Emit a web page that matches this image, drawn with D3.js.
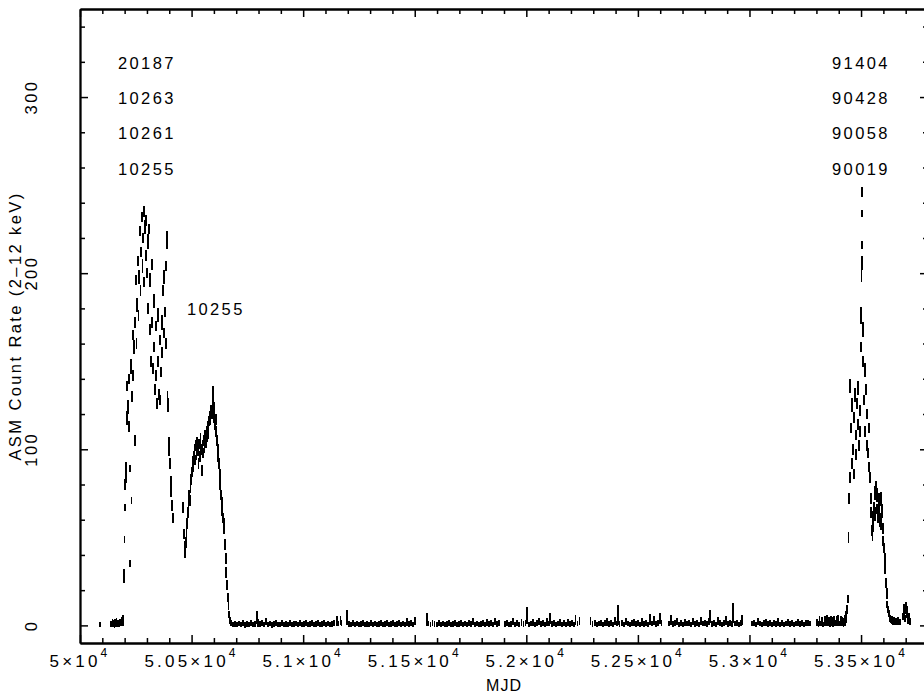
<!DOCTYPE html>
<html>
<head>
<meta charset="utf-8">
<script src="https://cdn.jsdelivr.net/npm/d3@7"></script>
<style>
  html, body { margin: 0; padding: 0; background: #fff; }
  svg { display: block; }
  text { font-family: "Liberation Sans", Arial, sans-serif; fill: #000; }
</style>
</head>
<body>
<svg id="chart" width="924" height="693"></svg>
<script>
// ---- RXTE/ASM daily light curve of GRO J1655-40: [MJD, rate, error] ----

// early 1996, before the outburst
const pre96 = [[50088,0.3,1.4],[50140,1.0,1.7],[50143,0.4,1.5],[50146,1.8,2.0],[50149,0.6,1.5],[50152,1.2,1.8],
  [50155,0.2,1.5],[50158,1.5,1.9],[50161,0.8,1.6],[50164,2.0,2.2],[50167,0.5,1.5],[50171,1.3,1.8],[50175,0.9,1.6],
  [50179,1.8,2.0],[50183,1.0,1.6],[50187,2.5,2.5],[50191,1.4,1.8],[50194,3.0,3.0]];

// 1996 outburst
const outburst96 = [[50197,28,4],[50199,49,2],[50201,67,2],[50203,80,3],[50205,90,3],[50207,84,3],[50209,118,4],
  [50212,136,3],[50215,124,4],[50218,140,3],[50221,113,3],[50223,89,2],[50225,35,2],[50228,147,4],[50231,71,2],
  [50233,130,3],[50236,165,3],[50239,142,3],[50242,158,4],[50245,105,3],[50247,172,3],[50250,196,3],[50253,160,3],
  [50256,182,4],[50259,207,3],[50262,176,3],[50265,198,4],[50268,224,3],[50271,190,3],[50274,212,3],[50277,232,3],
  [50280,204,4],[50283,220,3],[50285,235,3],[50288,195,3],[50291,226,4],[50294,210,3],[50297,230,3],[50300,200,3],
  [50303,218,4],[50306,180,3],[50309,225,3],[50312,168,3],[50315,196,4],[50318,150,3],[50321,205,3],[50324,172,3],
  [50327,146,3],[50330,184,4],[50333,158,3],[50336,134,3],[50339,170,3],[50342,142,3],[50345,126,3],[50348,176,4],
  [50351,150,3],[50354,131,3],[50357,162,3],[50360,128,3],[50363,144,3],[50366,172,4],[50369,155,3],[50372,190,3],
  [50375,166,3],[50378,198,4],[50381,178,3],[50384,160,3],[50387,204,3],[50390,219,5],[50392,130,3],[50394,126,3],
  [50396,124,3],[50398,104,3],[50400,99,3],[50403,92,3],[50406,82,3],[50409,76,3],[50412,68,3],[50415,61,3]];

// 1997 continuation and decay
const outburst97 = [[50462,67,3],[50465,52,3],[50468,44,4],[50471,41,3],[50474,47,3],[50477,53,3],[50480,58,3],
  [50483,64,3],[50486,69,3],[50489,74,3],[50492,71,3],[50495,78,3],[50498,83,3],[50501,87,3],[50504,93,3],
  [50507,90,3],[50510,96,3],[50513,100,3],[50516,94,3],[50519,102,3],[50522,97,3],[50525,104,3],[50528,99,3],
  [50531,92,3],[50534,103,3],[50537,96,3],[50540,106,3],[50543,100,3],[50546,88,3],[50549,102,3],[50552,98,3],
  [50555,105,3],[50558,101,3],[50561,108,3],[50564,104,3],[50567,110,3],[50570,107,3],[50573,113,3],[50576,109,3],
  [50579,116,3],[50582,119,3],[50585,117,3],[50588,122,3],[50591,120,3],[50594,126,4],[50596,131,5],[50599,123,4],
  [50602,118,3],[50605,114,3],[50608,117,3],[50611,110,3],[50614,105,3],[50617,100,3],[50620,96,3],[50623,92,3],
  [50626,86,3],[50629,80,3],[50632,74,3],[50635,70,3],[50638,65,3],[50641,61,3],[50644,58,3],[50647,55,3],
  [50650,46,3],[50653,38,3],[50656,30,3],[50659,23,3],[50662,16,2.5],[50665,11,2.5],[50668,6,2],[50671,3,2]];

// quiescence, one array per observing season
const q1997 = [[50676,1.2,1.7],[50685,0.5,1.5],[50694,0.9,1.6],[50703,0.4,1.5],[50712,1.0,1.6],[50721,0.6,1.5],
  [50730,1.3,1.7],[50739,0.3,1.5],[50748,0.8,1.6],[50757,0.5,1.5],[50766,1.1,1.7],[50775,0.7,1.5],[50784,0.9,1.6],
  [50794,4.5,3.8],[50799,1.5,2.2]];
const q1998 = [[50806,0.8,1.6],[50815,1.4,1.7],[50824,0.6,1.5],[50833,2.2,2.0],[50842,0.5,1.5],[50851,1.0,1.6],
  [50860,0.3,1.5],[50869,0.9,1.6],[50878,1.2,1.7],[50887,0.4,1.5],[50896,0.7,1.5],[50905,1.1,1.7],[50914,0.5,1.5],
  [50923,0.9,1.6],[50932,0.6,1.5],[50941,1.3,1.7],[50950,0.4,1.5],[50959,0.8,1.6],[50968,1.0,1.6],[50977,0.6,1.5],
  [50986,1.5,1.8],[50995,0.7,1.5],[51004,0.9,1.6],[51013,1.2,1.7],[51022,0.5,1.5],[51031,0.8,1.6],[51040,1.1,1.7],
  [51049,0.6,1.5],[51058,0.9,1.6],[51067,1.4,1.7],[51076,0.5,1.5],[51085,0.8,1.6],[51094,1.2,1.7],[51103,0.6,1.5],
  [51112,1.0,1.6],[51121,0.4,1.5],[51130,0.9,1.6],[51139,1.1,1.7],
  [51150,2.5,2.8],[51157,1.0,1.6],[51167,3.0,2.6],[51172,1.5,1.8],[51196,4.5,4.5]];
const q1999 = [[51205,0.9,1.6],[51214,0.5,1.5],[51223,1.2,1.7],[51232,0.7,1.5],[51241,1.0,1.6],[51250,0.4,1.5],
  [51259,0.8,1.6],[51268,1.3,1.7],[51277,0.6,1.5],[51286,0.9,1.6],[51295,0.5,1.5],[51304,1.1,1.7],[51313,0.7,1.5],
  [51322,1.0,1.6],[51331,0.4,1.5],[51340,0.8,1.6],[51349,1.2,1.7],[51358,0.6,1.5],[51367,0.9,1.6],[51376,1.4,1.7],
  [51385,0.5,1.5],[51394,0.8,1.6],[51403,1.1,1.7],[51412,0.6,1.5],[51421,0.9,1.6],[51430,1.3,1.7],[51439,0.7,1.5],
  [51448,1.0,1.6],[51457,0.5,1.5],[51466,2.0,2.2],[51475,0.8,1.6],[51484,1.2,1.7],[51493,0.6,1.5],[51502,2.5,2.5],
  [51556,3.5,3.8]];
const q2000 = [[51562,1.0,1.6],[51571,0.6,1.5],[51580,1.2,1.7],[51589,0.8,1.6],[51598,0.5,1.5],[51607,1.1,1.7],
  [51616,0.7,1.5],[51625,1.0,1.6],[51634,0.4,1.5],[51643,0.9,1.6],[51652,1.3,1.7],[51661,0.6,1.5],[51670,0.8,1.6],
  [51679,1.1,1.7],[51688,0.5,1.5],[51697,0.9,1.6],[51706,1.2,1.7],[51715,0.7,1.5],[51724,1.0,1.6],[51733,0.6,1.5],
  [51742,1.4,1.7],[51751,0.8,1.6],[51760,2.0,2.0],[51769,0.7,1.5],[51778,1.0,1.6],[51787,0.5,1.5],[51796,0.9,1.6],
  [51805,1.3,1.7],[51814,0.6,1.5],[51823,1.8,2.0],[51832,0.8,1.6],[51841,1.1,1.7],[51850,0.6,1.5],[51859,2.2,2.2],
  [51868,0.9,1.6],[51877,1.5,1.8]];
const q2001 = [[51906,0.8,1.6],[51915,1.2,1.7],[51924,0.6,1.5],[51933,0.9,1.6],[51942,2.0,2.0],[51951,0.7,1.5],
  [51960,1.1,1.7],[51969,0.5,1.5],[51978,1.9,2.0],[51987,0.8,1.6],[51996,1.2,1.7],[52003,5.5,4.8],[52012,0.7,1.5],
  [52021,1.0,1.6],[52030,1.6,1.8],[52039,0.6,1.5],[52048,1.3,1.7],[52057,2.0,2.0],[52066,0.9,1.6],[52075,1.4,1.7],
  [52084,0.7,1.5],[52093,2.1,2.2],[52102,1.0,1.6],[52106,4.0,3.2],[52115,0.8,1.6],[52124,1.3,1.7],[52133,0.6,1.5],
  [52142,1.0,1.6],[52151,1.8,2.0],[52160,0.7,1.5],[52169,1.1,1.7],[52178,0.5,1.5],[52187,1.6,1.8],[52196,0.9,1.6],
  [52205,1.2,1.7],[52214,0.6,1.5],[52220,3.2,2.8],[52229,1.0,1.6],[52238,2.4,2.4]];
const q2002 = [[52288,2.5,2.5],[52297,0.8,1.6],[52306,1.2,1.7],[52315,0.6,1.5],[52324,1.0,1.6],[52333,1.5,1.8],
  [52342,0.7,1.5],[52351,1.1,1.7],[52360,2.0,2.2],[52369,0.8,1.6],[52378,1.4,1.7],[52387,0.6,1.5],[52396,2.4,2.4],
  [52405,1.0,1.6],[52411,6.0,5.5],[52418,0.9,1.6],[52427,1.3,1.7],[52436,0.7,1.5],[52445,2.2,2.2],[52454,1.0,1.6],
  [52463,0.6,1.5],[52472,1.2,1.7],[52481,1.8,2.0],[52490,0.8,1.6],[52499,1.1,1.7],[52508,0.5,1.5],[52517,2.0,2.2],
  [52526,0.9,1.6],[52535,1.3,1.7],[52544,0.7,1.5],[52553,3.5,3.0],[52562,1.0,1.6],[52571,2.6,2.6],[52580,0.8,1.6],
  [52589,1.3,1.7],[52598,3.8,3.2],[52606,1.2,1.7]];
const q2003 = [[52638,1.0,1.6],[52647,3.0,2.8],[52656,0.8,1.6],[52665,1.2,1.7],[52674,2.0,2.0],[52683,0.7,1.5],
  [52692,1.1,1.7],[52701,0.6,1.5],[52710,1.9,2.0],[52719,1.0,1.6],[52728,1.4,1.7],[52737,0.7,1.5],[52746,2.2,2.2],
  [52755,0.9,1.6],[52764,1.3,1.7],[52773,0.6,1.5],[52782,2.5,2.4],[52791,1.0,1.6],[52800,1.2,1.7],[52809,0.8,1.6],
  [52818,2.0,2.0],[52823,5.0,3.8],[52832,0.9,1.6],[52841,1.3,1.7],[52850,0.7,1.5],[52859,2.4,2.4],[52868,1.1,1.7],
  [52877,0.6,1.5],[52886,1.2,1.7],[52895,2.8,2.5],[52904,0.9,1.6],[52913,1.4,1.7],[52922,0.8,1.6],[52926,7.0,5.5],
  [52935,1.0,1.6],[52944,1.3,1.7],[52953,0.6,1.5],[52962,1.1,1.7],[52966,3.0,3.0]];
const q2004 = [[53012,1.0,1.6],[53021,1.4,1.7],[53030,0.7,1.5],[53039,2.0,2.0],[53048,1.0,1.6],[53057,0.6,1.5],
  [53066,1.2,1.7],[53075,1.8,2.0],[53084,0.8,1.6],[53093,1.1,1.7],[53102,0.5,1.5],[53111,1.3,1.7],[53120,0.9,1.6],
  [53129,2.0,2.2],[53138,0.7,1.5],[53147,1.2,1.7],[53156,0.6,1.5],[53165,1.0,1.6],[53174,1.6,1.8],[53183,0.8,1.6],
  [53192,1.3,1.7],[53201,0.6,1.5],[53210,1.0,1.6],[53219,1.9,2.0],[53228,0.8,1.6],[53237,1.2,1.7],[53246,0.7,1.5],
  [53255,1.1,1.7],[53264,1.5,1.8],[53273,1.0,1.6],
  [53304,1.5,2.0],[53309,0.8,1.5],[53314,2.5,2.6],[53319,1.0,1.6],[53325,2.2,2.6],[53331,0.6,1.6],[53337,2.4,2.8],
  [53343,1.0,1.6],[53349,2.8,3.0],[53355,2.0,2.6],[53361,0.8,1.5],[53367,2.6,3.0],[53373,2.0,2.8],[53379,2.6,3.0],
  [53385,1.2,1.7],[53391,2.4,2.8],[53397,2.8,3.0],[53403,1.0,1.6],[53409,2.5,2.8],[53415,2.2,2.8],[53421,1.5,2.5],
  [53427,2.8,3.0]];

// 2005 outburst
const outburst05 = [[53431,3,1.5],[53434,6,2],[53437,9,2.5],[53440,15,2.5],[53444,50,3],[53446,72,3],[53449,136,4],
  [53452,84,3],[53455,112,3],[53458,92,3],[53461,125,4],[53464,100,3],[53467,118,3],[53470,86,3],[53473,131,4],
  [53476,108,3],[53479,97,3],[53482,126,3],[53485,114,3],[53488,135,4],[53491,102,3],[53494,122,3],[53497,110,3],
  [53500,158,3],[53501,176,5],[53502,200,5],[53503,216,2],[53504,234,2],[53505,246,3],[53506,206,4],
  [53508,168,4],[53510,150,3],[53513,128,3],[53516,145,4],[53519,110,3],[53522,134,3],[53525,102,3],[53528,120,3],
  [53531,98,3],[53534,112,3],[53537,90,3],[53540,84,3],[53543,72,3],[53546,64,3],[53549,54,3],[53551,51,3],
  [53553,56,3],[53555,62,3],[53558,66,4],[53561,75,4],[53564,63,4],[53567,78,4],[53570,66,3],[53573,74,4],
  [53576,62,4],[53579,71,4],[53582,64,4],[53585,60,4],[53588,72,4],[53591,58,4],[53594,65,4],[53597,55,3],
  [53600,48,3],[53603,44,3],[53606,38,3],[53609,32,3],[53612,24,3],[53615,18,3],[53618,12,2],[53621,9,2],
  [53624,7,2],[53628,4,2],[53632,3,1.5],[53636,2.5,1.5],[53640,4,1.5],[53644,2,1.5],[53648,3,1.5],[53652,1.5,1.5],
  [53656,2.5,1.5],[53660,1.5,1.5],[53664,3,1.8],[53668,2,1.5],[53672,1.5,1.5],[53676,2,1.5],
  [53688,5,2],[53692,9,3],[53696,4,2],[53700,10,3.5],[53704,6,2],[53708,8,3],[53712,3,2],[53716,5,2],[53719,2,2]];

// axis ranges and tick labels
const mjdRange = [50000, 53800];
const rateRange = [-10, 350];
const xTickValues = [50000, 50500, 51000, 51500, 52000, 52500, 53000, 53500];
const xTickMantissas = ["5", "5.05", "5.1", "5.15", "5.2", "5.25", "5.3", "5.35"];
const xTickExponent = "4";
const yTickValues = [0, 100, 200, 300];
const yTickLabels = ["0", "100", "200", "300"];

// proposal IDs written on the plot
const idsLeft = ["20187", "10263", "10261", "10255"];
const idsRight = ["91404", "90428", "90058", "90019"];
const idMiddle = "10255";

// ---- drawing ----
const W = 924, H = 693;
const plot = { left: 80, right: 928, top: 9, bottom: 643 };

const x = d3.scaleLinear().domain(mjdRange).range([plot.left, plot.right]);
const y = d3.scaleLinear().domain(rateRange).range([plot.bottom, plot.top]);

const svg = d3.select("#chart");
svg.append("rect").attr("width", W).attr("height", H).attr("fill", "#fff");

svg.append("defs").append("clipPath").attr("id", "plotArea")
  .append("rect")
  .attr("x", plot.left).attr("y", plot.top)
  .attr("width", plot.right - plot.left).attr("height", plot.bottom - plot.top);

// light curve: one vertical error bar per measurement
const allPoints = [].concat(pre96, outburst96, outburst97, q1997, q1998, q1999, q2000,
  q2001, q2002, q2003, q2004, outburst05);

svg.append("g")
  .attr("clip-path", "url(#plotArea)")
  .attr("stroke", "#000")
  .attr("stroke-width", 1.8)
  .attr("shape-rendering", "crispEdges")
  .selectAll("line")
  .data(allPoints)
  .join("line")
  .attr("x1", d => x(d[0]))
  .attr("x2", d => x(d[0]))
  .attr("y1", d => y(d[1] - d[2]))
  .attr("y2", d => y(d[1] + d[2]));

// frame with inward ticks on all four sides
const xMinor = d3.range(mjdRange[0], mjdRange[1] + 1, 100).filter(v => v % 500 !== 0);
const yMinor = d3.range(0, rateRange[1] + 1, 20).filter(v => v % 100 !== 0);

function styleAxis(g) {
  g.selectAll(".domain").attr("stroke", "#000").attr("stroke-width", 1.8);
  g.selectAll(".tick line").attr("stroke", "#000").attr("stroke-width", 1.5);
  g.selectAll(".tick text").remove();
}

const axes = [
  [d3.axisBottom, `translate(0,${plot.bottom})`, x],
  [d3.axisTop, `translate(0,${plot.top})`, x],
  [d3.axisLeft, `translate(${plot.left},0)`, y],
  [d3.axisRight, `translate(${plot.right},0)`, y]
];
axes.forEach(([make, tr, sc]) => {
  const isX = sc === x;
  svg.append("g").attr("transform", tr)
    .call(make(sc).tickValues(isX ? xTickValues : yTickValues).tickSize(-8).tickSizeOuter(0))
    .call(styleAxis);
  svg.append("g").attr("transform", tr)
    .call(make(sc).tickValues(isX ? xMinor : yMinor).tickSize(-5).tickSizeOuter(0))
    .call(styleAxis);
});

// x tick labels in the form m×10^4
const xl = svg.append("g").selectAll("text")
  .data(xTickValues)
  .join("text")
  .attr("x", d => x(d))
  .attr("y", 667)
  .attr("text-anchor", "middle")
  .style("font-size", "17px")
  .style("letter-spacing", "3.2px");
xl.append("tspan").text((d, i) => xTickMantissas[i] + "×10");
xl.append("tspan").attr("dy", -10).style("font-size", "12px").text(xTickExponent);

// y tick labels, written vertically
svg.append("g").selectAll("text")
  .data(yTickValues)
  .join("text")
  .attr("transform", d => `translate(37,${y(d)}) rotate(-90)`)
  .attr("text-anchor", "middle")
  .style("font-size", "16.5px")
  .style("letter-spacing", "2.4px")
  .text((d, i) => yTickLabels[i]);

// axis titles
svg.append("text")
  .attr("transform", `translate(21,${(plot.top + plot.bottom) / 2}) rotate(-90)`)
  .attr("text-anchor", "middle")
  .style("font-size", "16.5px")
  .style("letter-spacing", "2.4px")
  .text("ASM Count Rate (2–12 keV)");

svg.append("text")
  .attr("x", (plot.left + plot.right) / 2)
  .attr("y", 691)
  .attr("text-anchor", "middle")
  .style("font-size", "16px")
  .style("letter-spacing", "1px")
  .text("MJD");

// proposal ID annotations, anchored in data coordinates
const idRates = [316, 296, 276, 256];
const annot = svg.append("g").style("font-size", "16.5px").style("letter-spacing", "2.4px");
annot.selectAll("text.left").data(idsLeft).join("text").attr("class", "left")
  .attr("x", x(50170)).attr("y", (d, i) => y(idRates[i])).text(d => d);
annot.selectAll("text.right").data(idsRight).join("text").attr("class", "right")
  .attr("x", x(53370)).attr("y", (d, i) => y(idRates[i])).text(d => d);
annot.append("text").attr("x", x(50479)).attr("y", y(176)).text(idMiddle);
</script>
</body>
</html>
